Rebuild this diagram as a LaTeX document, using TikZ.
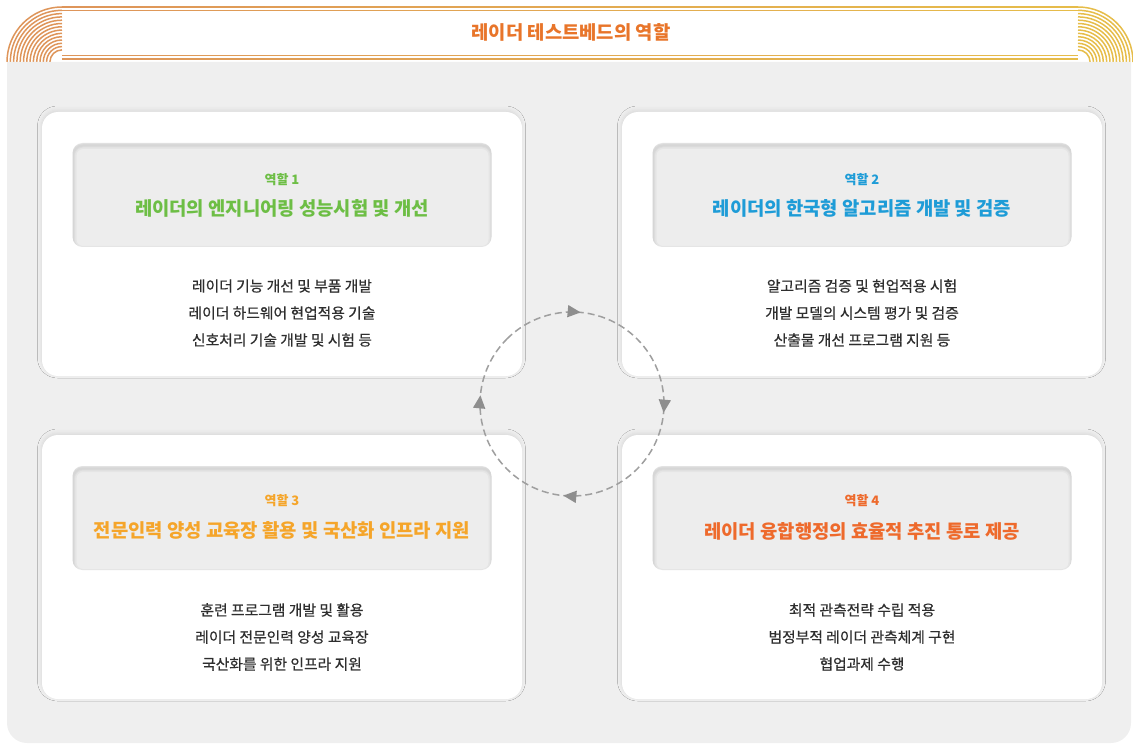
\documentclass[tikz,border=0pt]{standalone}
\usepackage{fontspec}
\setmainfont{Noto Sans CJK KR}
\newfontfamily\krmed{Noto Sans CJK KR}[FakeBold=0.5]
\usetikzlibrary{arrows.meta,decorations.markings,shadows.blur}
\definecolor{panel}{HTML}{EFEFEF}
\definecolor{inbox}{HTML}{EDEDED}
\definecolor{cgreen}{HTML}{6DBE45}
\definecolor{cblue}{HTML}{1E9CD7}
\definecolor{cyel}{HTML}{F5A52A}
\definecolor{cora}{HTML}{EE6A2C}
\definecolor{ctitle}{HTML}{E8752A}
\definecolor{cbody}{HTML}{2E2E2E}
\definecolor{lineL}{HTML}{DE955A}
\definecolor{lineR}{HTML}{E6BD4A}
\definecolor{cyc}{HTML}{8E8E8E}
\begin{document}
\begin{tikzpicture}[x=1pt,y=-1pt,
  card/.style={fill=white, rounded corners=16pt, minimum width=480pt, minimum height=264pt, inner sep=0pt,
    blur shadow={shadow xshift=-0.5pt, shadow yshift=2pt, shadow blur radius=4pt, shadow opacity=9}},
  inbox/.style={fill=inbox, rounded corners=10pt, minimum width=419pt, minimum height=104pt, inner sep=0pt,
    path picture={\foreach \w in {2,4,7}{\draw[black, opacity=.03, line width=\w pt, rounded corners=10pt]
      ([xshift=0.5pt,yshift=-2.5pt]path picture bounding box.north west) rectangle ([xshift=0.5pt,yshift=-2.5pt]path picture bounding box.south east);}}},
  rolelbl/.style={font=\fontsize{13}{15}\selectfont\bfseries, inner sep=0pt},
  roletitle/.style={font=\fontsize{18.8}{22}\selectfont\bfseries, inner sep=0pt},
  bodytxt/.style={font=\fontsize{14.8}{27}\selectfont\krmed, text=cbody, align=center, inner sep=0pt},
  arcline/.style={line width=1.5pt}
]
\useasboundingbox (0,0) rectangle (1133,746);
% title bar lines with gradient
\foreach \i in {0,...,49}{
  \pgfmathtruncatemacro\p{100-\i*2}
  \pgfmathsetmacro\xa{62+\i*20.32}
  \pgfmathsetmacro\xb{\xa+20.8}
  \draw[arcline, lineL!\p!lineR] (\xa,7) -- (\xb,7);
  \draw[arcline, lineL!\p!lineR] (\xa,10.3) -- (\xb,10.3);
  \draw[arcline, lineL!\p!lineR] (\xa,55.5) -- (\xb,55.5);
  \draw[arcline, lineL!\p!lineR] (\xa,58.8) -- (\xb,58.8);
}
% corner arcs
\foreach \k in {0,...,13}{
  \pgfmathsetmacro\r{55-3.3*\k}
  \draw[arcline, lineL] (62-\r,62) arc[start angle=180, end angle=270, radius=\r];
  \draw[arcline, lineR] (1078,62-\r) arc[start angle=270, end angle=360, radius=\r];
}
\node[font=\fontsize{18.8}{22}\selectfont\bfseries, text=ctitle, inner sep=0pt] (title) at (571,32) {레이더 테스트베드의 역할};
% panel
\fill[panel] (7,62) -- (1131,62) -- (1131,723) arc[start angle=0, end angle=90, radius=20]
  -- (27,743) arc[start angle=90, end angle=180, radius=20] -- cycle;
% cards
\node[card] (card1) at (282,244) {};
\node[card] (card2) at (862,244) {};
\node[card] (card3) at (282,567) {};
\node[card] (card4) at (862,567) {};
\node[inbox] (box1) at (282,195) {};
\node[inbox] (box2) at (862,195) {};
\node[inbox] (box3) at (282,518) {};
\node[inbox] (box4) at (862,518) {};
% role 1
\node[rolelbl, text=cgreen] (lab1) at (282,180) {역할 1};
\node[roletitle, text=cgreen] (ttl1) at (282,208) {레이더의 엔지니어링 성능시험 및 개선};
\node[bodytxt] (body1) at (282,313) {레이더 기능 개선 및 부품 개발\\레이더 하드웨어 현업적용 기술\\신호처리 기술 개발 및 시험 등};
% role 2
\node[rolelbl, text=cblue] (lab2) at (862,180) {역할 2};
\node[roletitle, text=cblue] (ttl2) at (862,208) {레이더의 한국형 알고리즘 개발 및 검증};
\node[bodytxt] (body2) at (862,313) {알고리즘 검증 및 현업적용 시험\\개발 모델의 시스템 평가 및 검증\\산출물 개선 프로그램 지원 등};
% role 3
\node[rolelbl, text=cyel] (lab3) at (282,501) {역할 3};
\node[roletitle, text=cyel] (ttl3) at (282,530) {전문인력 양성 교육장 활용 및 국산화 인프라 지원};
\node[bodytxt] (body3) at (282,637) {훈련 프로그램 개발 및 활용\\레이더 전문인력 양성 교육장\\국산화를 위한 인프라 지원};
% role 4
\node[rolelbl, text=cora] (lab4) at (862,501) {역할 4};
\node[roletitle, text=cora] (ttl4) at (862,531) {레이더 융합행정의 효율적 추진 통로 제공};
\node[bodytxt] (body4) at (862,637) {최적 관측전략 수립 적용\\범정부적 레이더 관측체계 구현\\협업과제 수행};
% cycle
\coordinate (cyccenter) at (572,404);
\draw[cyc!85, line width=1.5pt, dash pattern=on 7pt off 4pt, postaction={decorate},
  decoration={markings,
    mark=at position 0.14 with {\arrow[cyc, solid]{Triangle[length=13pt,width=12pt]}},
    mark=at position 0.39 with {\arrow[cyc, solid]{Triangle[length=13pt,width=12pt]}},
    mark=at position 0.64 with {\arrow[cyc, solid]{Triangle[length=13pt,width=12pt]}},
    mark=at position 0.89 with {\arrow[cyc, solid]{Triangle[length=13pt,width=12pt]}}}]
  (cyccenter) ++(-135:92) arc[start angle=-135, end angle=225, radius=92];
\end{tikzpicture}
\end{document}
